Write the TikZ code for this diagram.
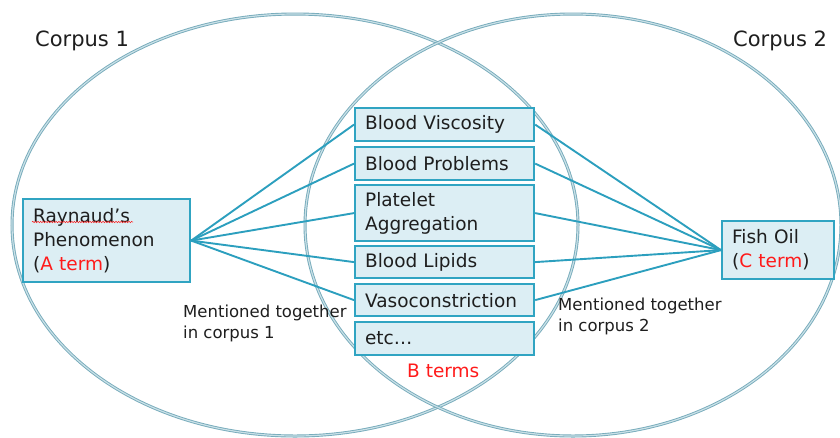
\documentclass[tikz,border=0pt]{standalone}
\usepackage{fontspec}
\setmainfont{DejaVu Sans}
\usetikzlibrary{decorations.pathmorphing}
\definecolor{ringcol}{HTML}{76ABBB}
\definecolor{ringin}{HTML}{C9E0E7}
\definecolor{boxfill}{HTML}{DCEEF4}
\definecolor{boxline}{HTML}{30A4C2}
\definecolor{linkcol}{HTML}{2C9FBE}
\definecolor{inktext}{HTML}{1E1E1E}
\definecolor{termred}{HTML}{FF1A1A}

\begin{document}
\begin{tikzpicture}[x=1pt,y=-1pt,
  termbox/.style={draw=boxline, fill=boxfill, line width=2.2pt, anchor=north west,
    inner xsep=10pt, inner ysep=0pt, align=left, text=inktext,
    font=\fontsize{18.5}{24}\selectfont},
  link/.style={draw=linkcol, line width=1.9pt},
  ring/.style={draw=ringcol, line width=0.9pt, double=ringin, double distance=1.2pt},
  caption/.style={text=inktext, anchor=base west, inner sep=0pt, align=left}]

\useasboundingbox (0,0) rectangle (840,437);

% the two corpora
\draw[ring] (295,225) ellipse [x radius=283, y radius=211];
\draw[ring] (573,225) ellipse [x radius=268, y radius=211];

% A term
\node[termbox, minimum width=167pt, minimum height=83pt, text width=147pt] (ray) at (22,198)
  {Raynaud’s\\Phenomenon\\(\textcolor{termred}{A term})};
\draw[termred, line width=0.5pt, decorate, decoration={snake, amplitude=0.7pt, segment length=2.6pt}]
  (32,222) -- (133,222);

% B terms
\node[termbox, minimum width=179pt, minimum height=33pt, text width=159pt] (bv) at (354,107) {Blood Viscosity};
\node[termbox, minimum width=179pt, minimum height=33pt, text width=159pt] (bp) at (354,146) {Blood Problems};
\node[termbox, minimum width=179pt, minimum height=56pt, text width=159pt] (pa) at (354,184) {Platelet\\Aggregation};
\node[termbox, minimum width=179pt, minimum height=32pt, text width=159pt] (bl) at (354,245) {Blood Lipids};
\node[termbox, minimum width=179pt, minimum height=32pt, text width=159pt] (vc) at (354,283) {Vasoconstriction};
\node[termbox, minimum width=179pt, minimum height=33pt, text width=159pt] (etc) at (354,321) {etc…};

% C term
\node[termbox, minimum width=112pt, minimum height=58pt, text width=92pt] (fish) at (721,220)
  {Fish Oil\\(\textcolor{termred}{C term})};

% co-mention links
\foreach \b in {bv,bp,pa,bl,vc} {
  \draw[link] (ray.east) -- (\b.west);
  \draw[link] (\b.east) -- (fish.west);
}

% captions (multi-line ones are anchored on their last line)
\node[caption, font=\fontsize{21}{24}\selectfont] (c1) at (35,46) {Corpus 1};
\node[caption, font=\fontsize{21}{24}\selectfont] (c2) at (733,46) {Corpus 2};
\node[caption, font=\fontsize{16.5}{21}\selectfont] (m1) at (183,338) {Mentioned together\\in corpus 1};
\node[caption, font=\fontsize{16.5}{21}\selectfont] (m2) at (558,331) {Mentioned together\\in corpus 2};
\node[caption, text=termred, font=\fontsize{18.5}{24}\selectfont] (bt) at (407,377) {B terms};
\end{tikzpicture}
\end{document}
